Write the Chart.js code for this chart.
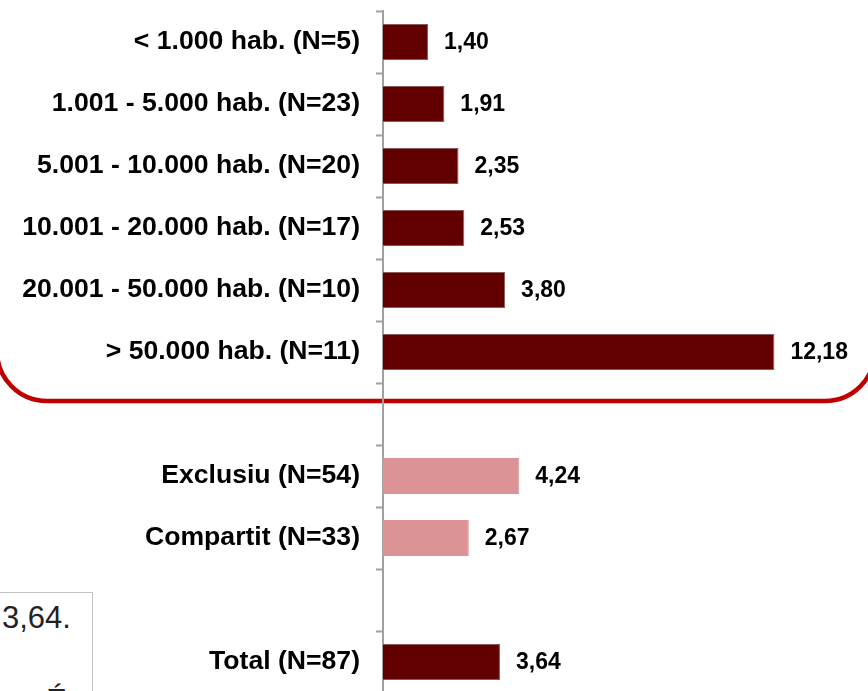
<!DOCTYPE html>
<html>
<head>
<meta charset="utf-8">
<script src="https://cdn.jsdelivr.net/npm/chart.js@4/dist/chart.umd.min.js"></script>
<style>
  html, body { margin: 0; padding: 0; background: #fff; overflow: hidden; }
  #wrap { position: relative; width: 868px; height: 693px; }
  #note {
    position: absolute; left: -2px; top: 592px; width: 93px; height: 120px;
    border: 1px solid #c4c4c4; background: #fff;
    font-family: 'Liberation Sans', Arial, sans-serif; color: #222;
  }
  #note .l1 { position: absolute; left: 3px; top: 7px; font-size: 31px; }
  #note .l2 { position: absolute; left: 47px; top: 90px; font-size: 31px; }
</style>
</head>
<body>
<div id="wrap">
  <canvas id="chart"></canvas>
  <div id="note"><span class="l1">3,64.</span><span class="l2">É</span></div>
</div>
<script>
// ── Data ───────────────────────────────────────────────────
const categories = [
  '< 1.000 hab. (N=5)',
  '1.001 - 5.000 hab. (N=23)',
  '5.001 - 10.000 hab. (N=20)',
  '10.001 - 20.000 hab. (N=17)',
  '20.001 - 50.000 hab. (N=10)',
  '> 50.000 hab. (N=11)',
  '',
  'Exclusiu (N=54)',
  'Compartit (N=33)',
  '',
  'Total (N=87)',
];
const values = [1.40, 1.91, 2.35, 2.53, 3.80, 12.18, null, 4.24, 2.67, null, 3.64];
const barGroup = ['pop', 'pop', 'pop', 'pop', 'pop', 'pop', '', 'type', 'type', '', 'pop'];

const DARK  = '#620000';
const LIGHT = '#dc9396';
const fmt = v => v.toFixed(2).replace('.', ',');

// ── Plugins ────────────────────────────────────────────────
const frameBox = {
  id: 'frameBox',
  beforeDraw(chart) {
    const c = chart.ctx;
    const l = -3, r = 875, t = -46, b = 401, rad = 50;
    c.save();
    c.strokeStyle = '#c00000';
    c.lineWidth = 4.5;
    c.beginPath();
    c.moveTo(l + rad, t);
    c.lineTo(r - rad, t);
    c.arcTo(r, t, r, t + rad, rad);
    c.lineTo(r, b - rad);
    c.arcTo(r, b, r - rad, b, rad);
    c.lineTo(l + rad, b);
    c.arcTo(l, b, l, b - rad, rad);
    c.lineTo(l, t + rad);
    c.arcTo(l, t, l + rad, t, rad);
    c.stroke();
    c.restore();
  },
};

const valueLabels = {
  id: 'valueLabels',
  afterDatasetsDraw(chart) {
    const c = chart.ctx;
    const meta = chart.getDatasetMeta(0);
    c.save();
    c.font = "bold 23px 'Liberation Sans', Arial, sans-serif";
    c.fillStyle = '#000';
    c.textAlign = 'left';
    c.textBaseline = 'middle';
    meta.data.forEach((bar, i) => {
      if (values[i] == null) return;
      c.fillText(fmt(values[i]), bar.x + 16, bar.y + 1);
    });
    c.restore();
  },
};

// ── Chart ──────────────────────────────────────────────────
new Chart(document.getElementById('chart'), {
  type: 'bar',
  data: {
    labels: categories,
    datasets: [{
      data: values,
      backgroundColor: barGroup.map(g => g === 'type' ? LIGHT : DARK),
      borderColor: barGroup.map(g => g === 'type' ? LIGHT : '#8a5a5a'),
      borderWidth: 1,
      borderSkipped: 'left',
      categoryPercentage: 1,
      barPercentage: 0.58,
    }],
  },
  options: {
    indexAxis: 'y',
    responsive: true,
    maintainAspectRatio: false,
    animation: false,
    layout: { padding: { top: 11, right: 3, bottom: 0, left: 0 } },
    plugins: {
      legend: { display: false },
      tooltip: { enabled: false },
    },
    scales: {
      x: {
        display: false,
        min: 0,
        max: 15,
      },
      y: {
        afterFit: scale => {
          scale.width = 383;
          scale.paddingTop = 0;
          scale.paddingBottom = 0;
        },
        grid: {
          offset: true,
          drawOnChartArea: false,
          tickLength: 7,
          tickColor: '#a0a0a0',
          tickWidth: 2,
        },
        border: { color: '#a0a0a0', width: 2 },
        ticks: {
          autoSkip: false,
          padding: 16,
          color: '#000',
          font: { size: 26.6, weight: 'bold', family: "'Liberation Sans', Arial, sans-serif" },
        },
      },
    },
  },
  plugins: [frameBox, valueLabels],
});
</script>
</body>
</html>
